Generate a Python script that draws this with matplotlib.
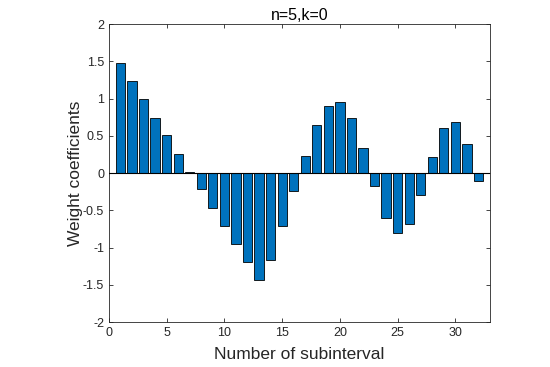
import numpy as np
import matplotlib.pyplot as plt

plt.rcParams['font.family'] = ['Liberation Sans', 'DejaVu Sans']

# weight coefficient per subinterval
subint = np.arange(1, 33)
weights = [1.47, 1.23, 0.99, 0.74, 0.51, 0.26, 0.02, -0.22,
           -0.47, -0.71, -0.95, -1.19, -1.43, -1.17, -0.71, -0.24,
           0.23, 0.64, 0.90, 0.95, 0.74, 0.34, -0.17, -0.60,
           -0.80, -0.69, -0.29, 0.22, 0.61, 0.68, 0.39, -0.11]

xticks = [0, 5, 10, 15, 20, 25, 30]
yticks = [-2, -1.5, -1, -0.5, 0, 0.5, 1, 1.5, 2]
ytick_labels = ['-2', '-1.5', '-1', '-0.5', '0', '0.5', '1', '1.5', '2']

gray = '#262626'

fig = plt.figure(figsize=(5.5, 3.67), dpi=100)
ax = fig.add_axes([0.198, 0.1226, 0.693, 0.812])

ax.bar(subint, weights, width=0.8, color='#0072BD', edgecolor='black', linewidth=0.6, zorder=2)
ax.axhline(0, color='black', linewidth=0.8, zorder=3)

ax.set_xlim(0, 33)
ax.set_ylim(-2, 2)
ax.set_xticks(xticks)
ax.set_yticks(yticks)
ax.set_yticklabels(ytick_labels)

ax.tick_params(direction='in', top=True, right=True, length=3, width=0.6,
               colors=gray, labelsize=9, labelcolor=gray)
for s in ax.spines.values():
    s.set_color(gray)
    s.set_linewidth(0.6)

ax.set_title('n=5,k=0', fontsize=11.5, color='black', pad=3)
ax.set_xlabel('Number of subinterval', fontsize=12.5, color=gray, labelpad=6)
ax.set_ylabel('Weight coefficients', fontsize=12.5, color=gray, labelpad=0)

fig.savefig('out.png', dpi=100)
